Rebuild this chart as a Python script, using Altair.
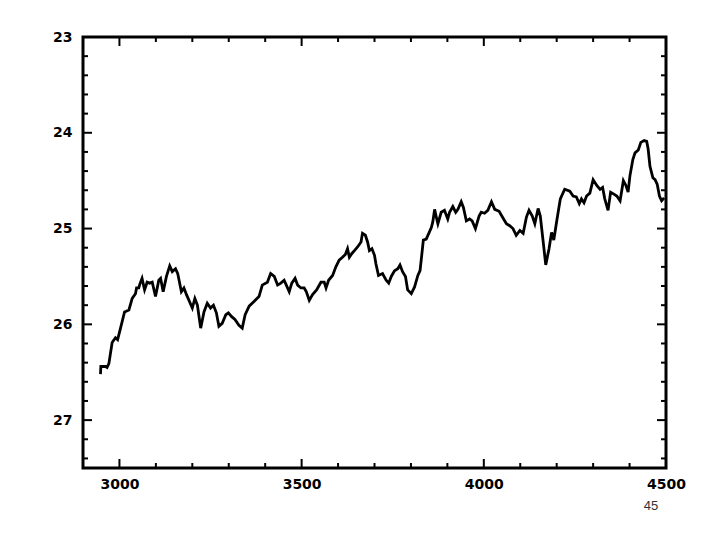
import altair as alt
import pandas as pd

# ---- data ----
x_vals = [2948, 2949, 2962, 2966, 2971, 2980, 2989, 2995, 3003, 3014,
          3026, 3035, 3044, 3047, 3053, 3056, 3062, 3069, 3076, 3083,
          3090, 3099, 3108, 3113, 3120, 3129, 3138, 3145, 3154, 3160,
          3170, 3177, 3184, 3200, 3207, 3214, 3223, 3232, 3241, 3250,
          3258, 3266, 3273, 3282, 3292, 3299, 3308, 3317, 3328, 3337,
          3345, 3356, 3370, 3383, 3392, 3406, 3415, 3425, 3434, 3443,
          3452, 3458, 3466, 3473, 3482, 3489, 3498, 3507, 3513, 3521,
          3530, 3541, 3553, 3562, 3567, 3574, 3585, 3594, 3603, 3612,
          3620, 3626, 3631, 3638, 3645, 3654, 3663, 3667, 3675, 3681,
          3686, 3693, 3700, 3704, 3711, 3722, 3732, 3739, 3746, 3755,
          3764, 3770, 3777, 3785, 3791, 3801, 3810, 3819, 3825, 3831,
          3834, 3842, 3849, 3856, 3860, 3865, 3869, 3874, 3883, 3892,
          3901, 3906, 3915, 3923, 3929, 3938, 3944, 3952, 3961, 3968,
          3977, 3987, 3993, 4002, 4011, 4021, 4030, 4042, 4051, 4062,
          4071, 4080, 4089, 4099, 4108, 4117, 4124, 4133, 4140, 4149,
          4155, 4163, 4170, 4179, 4186, 4192, 4201, 4210, 4222, 4236,
          4245, 4254, 4262, 4268, 4275, 4282, 4291, 4300, 4310, 4319,
          4326, 4332, 4341, 4348, 4357, 4365, 4374, 4383, 4390, 4396,
          4401, 4409, 4415, 4424, 4431, 4440, 4447, 4451, 4456, 4464,
          4470, 4476, 4482, 4488, 4495]
y_vals = [26.52, 26.44, 26.44, 26.45, 26.41, 26.19, 26.14, 26.16, 26.04, 25.87,
          25.85, 25.73, 25.68, 25.62, 25.62, 25.58, 25.52, 25.64, 25.56, 25.57,
          25.56, 25.71, 25.54, 25.52, 25.66, 25.50, 25.39, 25.45, 25.42, 25.47,
          25.66, 25.62, 25.69, 25.83, 25.73, 25.80, 26.04, 25.87, 25.78, 25.83,
          25.80, 25.88, 26.02, 25.99, 25.90, 25.88, 25.92, 25.95, 26.01, 26.04,
          25.90, 25.81, 25.76, 25.71, 25.59, 25.56, 25.47, 25.50, 25.59, 25.57,
          25.54, 25.59, 25.66, 25.57, 25.52, 25.59, 25.62, 25.62, 25.66, 25.75,
          25.69, 25.64, 25.56, 25.56, 25.62, 25.54, 25.49, 25.40, 25.33, 25.30,
          25.27, 25.21, 25.30, 25.26, 25.23, 25.19, 25.14, 25.05, 25.07, 25.14,
          25.23, 25.21, 25.28, 25.37, 25.49, 25.47, 25.54, 25.57, 25.50, 25.44,
          25.42, 25.38, 25.45, 25.50, 25.64, 25.68, 25.61, 25.49, 25.44, 25.23,
          25.12, 25.11, 25.05, 24.99, 24.93, 24.80, 24.87, 24.95, 24.83, 24.81,
          24.90, 24.83, 24.77, 24.83, 24.80, 24.72, 24.78, 24.92, 24.90, 24.92,
          25.00, 24.87, 24.83, 24.84, 24.81, 24.72, 24.80, 24.82, 24.88, 24.95,
          24.97, 25.00, 25.07, 25.02, 25.05, 24.88, 24.81, 24.87, 24.95, 24.79,
          24.87, 25.14, 25.38, 25.21, 25.04, 25.12, 24.90, 24.69, 24.59, 24.61,
          24.66, 24.67, 24.74, 24.69, 24.73, 24.66, 24.63, 24.49, 24.55, 24.59,
          24.57, 24.69, 24.81, 24.62, 24.64, 24.66, 24.71, 24.50, 24.55, 24.62,
          24.45, 24.28, 24.21, 24.18, 24.10, 24.08, 24.09, 24.17, 24.35, 24.47,
          24.49, 24.54, 24.66, 24.71, 24.68]

x_labels = [3000, 3500, 4000, 4500]
y_labels = [23, 24, 25, 26, 27]
x_major = [3000, 3500, 4000]
x_minor = [3100, 3200, 3300, 3400, 3600, 3700, 3800, 3900, 4100, 4200, 4300, 4400]
y_major = [24, 25, 26, 27]
y_minor = [23.2, 23.4, 23.6, 23.8, 24.2, 24.4, 24.6, 24.8, 25.2, 25.4, 25.6, 25.8,
           26.2, 26.4, 26.6, 26.8, 27.2, 27.4]
page_label = ["45"]

W, H = 583, 431
MAJ, MIN = 9, 5

line_df = pd.DataFrame({"x": x_vals, "y": y_vals})
xmaj_df = pd.DataFrame({"x": x_major})
xmin_df = pd.DataFrame({"x": x_minor})
ymaj_df = pd.DataFrame({"y": y_major})
ymin_df = pd.DataFrame({"y": y_minor})
page_df = pd.DataFrame({"t": page_label})

label_font = "DejaVu Sans"
x_scale = alt.Scale(domain=[2900, 4500], nice=False, zero=False)
y_scale = alt.Scale(domain=[23, 27.5], nice=False, zero=False, reverse=True)
x_axis = alt.Axis(values=x_labels, ticks=False, domain=False, grid=False, title=None,
                  labelFont=label_font, labelFontSize=14, labelFontWeight="bold",
                  labelColor="black", labelPadding=9, labelFlush=False,
                  labelOverlap=False, format="d")
y_axis = alt.Axis(values=y_labels, ticks=False, domain=False, grid=False, title=None,
                  labelFont=label_font, labelFontSize=14, labelFontWeight="bold",
                  labelColor="black", labelPadding=11, labelFlush=False,
                  labelOverlap=False, format="d")

X = alt.X("x:Q", scale=x_scale, axis=x_axis)
Y = alt.Y("y:Q", scale=y_scale, axis=y_axis)

line = alt.Chart(line_df).mark_line(color="black", strokeWidth=2.8).encode(x=X, y=Y)

tick_style = dict(color="black", strokeWidth=2)

def xticks(df, size):
    bottom = alt.Chart(df).mark_rule(**tick_style).encode(
        x=X, y=alt.value(H), y2=alt.value(H - size))
    top = alt.Chart(df).mark_rule(**tick_style).encode(
        x=X, y=alt.value(0), y2=alt.value(size))
    return [bottom, top]

def yticks(df, size):
    left = alt.Chart(df).mark_rule(**tick_style).encode(
        y=Y, x=alt.value(0), x2=alt.value(size))
    right = alt.Chart(df).mark_rule(**tick_style).encode(
        y=Y, x=alt.value(W), x2=alt.value(W - size))
    return [left, right]

page = alt.Chart(page_df).mark_text(
    font="Liberation Sans", fontSize=13, color="#333333", align="center", baseline="middle"
).encode(text="t:N", x=alt.value(W - 15), y=alt.value(H + 38))

chart = alt.layer(
    line,
    *xticks(xmaj_df, MAJ), *xticks(xmin_df, MIN),
    *yticks(ymaj_df, MAJ), *yticks(ymin_df, MIN),
    page,
).properties(
    width=W, height=H,
    autosize=alt.AutoSizeParams(type="none"),
    padding={"left": 75, "top": 29, "right": 46, "bottom": 64},
    background="white",
).configure_view(stroke="black", strokeWidth=3)

chart.save("out.html", embed_options={"renderer": "svg", "actions": False})
